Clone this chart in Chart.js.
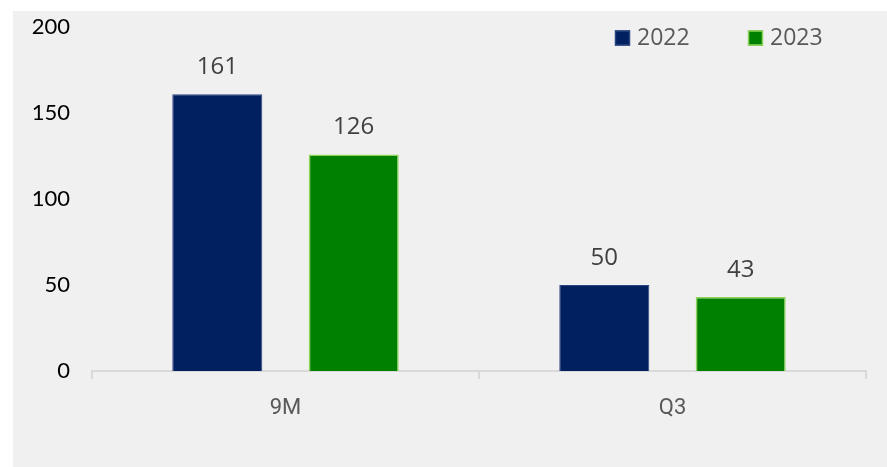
<!DOCTYPE html>
<html>
<head>
<meta charset="utf-8">
<script src="https://cdn.jsdelivr.net/npm/chart.js@4/dist/chart.umd.min.js"></script>
<style>
html,body{margin:0;padding:0;background:#ffffff;width:887px;height:467px;overflow:hidden;}
#wrap{position:absolute;left:13px;top:11px;width:874px;height:456px;background:#f0f0f0;}
canvas{display:block;}
</style>
</head>
<body>
<div id="wrap"><canvas id="c"></canvas></div>
<script>
const categories = ["9M", "Q3"];
const seriesNames = ["2022", "2023"];
const values2022 = [161, 50];
const values2023 = [126, 43];
const yTicks = [0, 50, 100, 150, 200];

const valueLabels = {
  id: 'valueLabels',
  afterDatasetsDraw(chart) {
    const ctx = chart.ctx;
    ctx.save();
    ctx.font = '24px "Open Sans", sans-serif';
    ctx.fillStyle = '#404040';
    ctx.textAlign = 'center';
    ctx.textBaseline = 'middle';
    chart.data.datasets.forEach((ds, i) => {
      chart.getDatasetMeta(i).data.forEach((bar, j) => {
        ctx.fillText(String(ds.data[j]), bar.x, bar.y - 27);
      });
    });
    ctx.restore();
  }
};

const customLegend = {
  id: 'customLegend',
  afterDraw(chart) {
    const ctx = chart.ctx;
    const starts = [602, 735];
    ctx.save();
    ctx.font = '23px "Open Sans", sans-serif';
    ctx.textBaseline = 'middle';
    ctx.textAlign = 'left';
    chart.data.datasets.forEach((ds, i) => {
      const x = starts[i], y = 27;
      ctx.fillStyle = ds.backgroundColor;
      ctx.fillRect(x, y - 7.5, 15, 15);
      if (ds.borderWidth) {
        ctx.strokeStyle = ds.borderColor;
        ctx.lineWidth = 1.5;
        ctx.strokeRect(x + 0.5, y - 7, 14, 14);
      }
      ctx.fillStyle = '#595959';
      ctx.fillText(ds.label, x + 22, y);
    });
    ctx.restore();
  }
};

new Chart(document.getElementById('c'), {
  type: 'bar',
  data: {
    labels: categories,
    datasets: [
      { label: seriesNames[0], data: values2022, backgroundColor: '#002060', borderColor: '#2a4480', borderWidth: 1, categoryPercentage: 0.705, barPercentage: 0.66 },
      { label: seriesNames[1], data: values2023, backgroundColor: '#008000', borderColor: '#8fd45a', borderWidth: 1.5, categoryPercentage: 0.705, barPercentage: 0.66 }
    ]
  },
  options: {
    responsive: true,
    maintainAspectRatio: false,
    animation: false,
    layout: { padding: { top: 16, right: 21, left: 0, bottom: 0 } },
    plugins: { legend: { display: false }, tooltip: { enabled: false } },
    scales: {
      x: {
        grid: { display: true, drawOnChartArea: false, drawTicks: true, tickLength: 8, color: '#d9d9d9', lineWidth: 2 },
        border: { display: true, color: '#d9d9d9', width: 2 },
        ticks: { color: '#595959', font: { family: '"Liberation Sans Narrow", "Roboto", sans-serif', size: 22 }, padding: 16 },
        afterFit(scale) { scale.height = 96; }
      },
      y: {
        min: 0, max: 200,
        afterBuildTicks(scale) { scale.ticks = yTicks.map(v => ({ value: v })); },
        grid: { display: false, drawTicks: true, tickLength: 19 },
        border: { display: false },
        ticks: { color: '#000000', font: { family: 'Lato, "Carlito", sans-serif', size: 22 }, padding: 3 },
        afterFit(scale) { scale.width = 79; }
      }
    }
  },
  plugins: [valueLabels, customLegend]
});
</script>
</body>
</html>
